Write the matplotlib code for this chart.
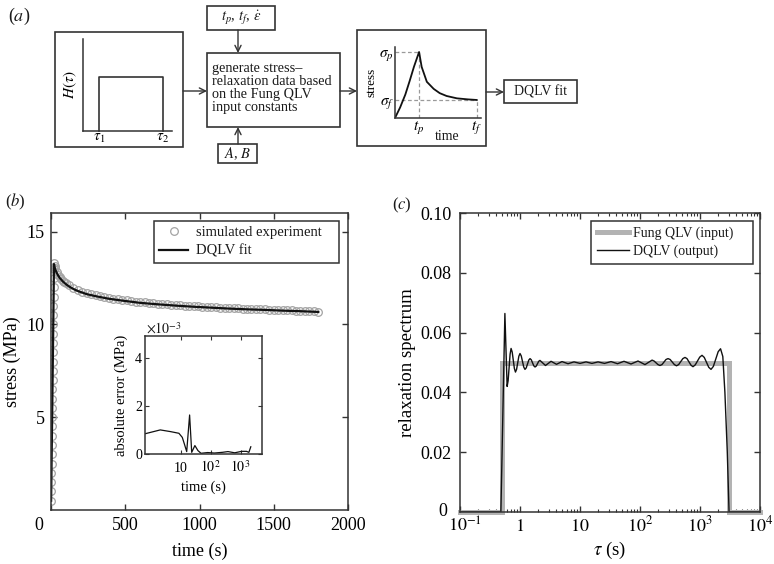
import matplotlib.pyplot as plt
from matplotlib.patches import Rectangle
from matplotlib.transforms import ScaledTranslation

plt.rcParams["font.family"] = ["Liberation Serif", "DejaVu Serif"]
plt.rcParams["mathtext.fontset"] = "stix"
plt.rcParams["axes.linewidth"] = 1.1
plt.rcParams["axes.edgecolor"] = "#333333"
plt.rcParams["xtick.direction"] = "in"
plt.rcParams["ytick.direction"] = "in"
plt.rcParams["text.color"] = "#1a1a1a"

EDGE = "#333333"

# ---- panel (a) schematic values (axis fractions) ----
h_x = [0.18, 0.18, 0.90, 0.90]
h_y = [0.0, 0.59, 0.59, 0.0]
sch_t = [0.0, 0.06, 0.12, 0.17, 0.22, 0.28, 0.31, 0.37, 0.45, 0.52, 0.60, 0.72, 0.85, 0.95]
sch_s = [0.0, 0.15, 0.33, 0.52, 0.72, 0.93, 0.72, 0.51, 0.41, 0.35, 0.31, 0.277, 0.262, 0.254]
tp, tf, sig_p, sig_f = 0.28, 0.95, 0.93, 0.254

# ---- panel (b): simulated experiment and DQLV fit ----
ramp_t = [0.8, 1.5, 2.3, 3.0, 3.8, 4.6, 5.3, 6.1, 6.9, 7.6, 8.4, 9.2, 9.9, 10.7, 11.5,
          12.2, 13.0, 13.8, 14.5, 15.3, 16.0, 16.8, 17.6, 18.3, 19.1, 19.8, 20.0]
ramp_s = [0.5, 1.0, 1.5, 2.0, 2.5, 3.0, 3.5, 4.0, 4.5, 5.0, 5.5, 6.0, 6.5, 7.0, 7.5,
          8.0, 8.5, 9.0, 9.5, 10.0, 10.5, 11.0, 11.5, 12.0, 12.5, 13.0, 13.3]
relax_t = [25, 30, 40, 50, 60, 70, 80, 90, 100, 120, 150, 180, 210, 240, 270, 300,
           330, 360, 390, 420, 450, 480, 510, 540, 570, 600, 630, 660, 690, 720, 750,
           780, 810, 840, 870, 900, 930, 960, 990, 1020, 1050, 1080, 1110, 1140, 1170,
           1200, 1230, 1260, 1290, 1320, 1350, 1380, 1410, 1440, 1470, 1500, 1530,
           1560, 1590, 1620, 1650, 1680, 1710, 1740, 1770, 1800]
relax_s = [13.15, 13.02, 12.82, 12.67, 12.54, 12.44, 12.36, 12.28, 12.22, 12.10, 11.95,
           11.85, 11.76, 11.68, 11.62, 11.57, 11.51, 11.47, 11.43, 11.39, 11.35, 11.32,
           11.29, 11.26, 11.23, 11.20, 11.18, 11.16, 11.14, 11.12, 11.10, 11.08, 11.06,
           11.05, 11.03, 11.01, 11.00, 10.98, 10.97, 10.95, 10.94, 10.93, 10.91, 10.90,
           10.89, 10.88, 10.87, 10.86, 10.85, 10.84, 10.83, 10.82, 10.81, 10.81, 10.80,
           10.79, 10.78, 10.77, 10.76, 10.75, 10.74, 10.73, 10.72, 10.71, 10.70, 10.69]
fit_t = [0.8, 5, 10, 15, 18, 20, 25, 30, 40, 50, 60, 80, 100, 120, 150, 180, 240, 300,
         390, 480, 600, 720, 840, 960, 1080, 1200, 1320, 1440, 1560, 1680, 1800]
fit_s = [0.5, 3.2, 6.5, 9.8, 11.8, 13.25, 13.05, 12.93, 12.75, 12.61, 12.49, 12.31,
         12.17, 12.05, 11.91, 11.80, 11.63, 11.52, 11.38, 11.28, 11.16, 11.08, 11.01,
         10.95, 10.90, 10.85, 10.81, 10.78, 10.74, 10.71, 10.67]

# inset: absolute error (x1e-3 MPa)
err_t = [0.65, 2.1, 4.6, 8.8, 11.4, 13.5, 16, 20, 23.5, 30, 38, 48, 80, 134, 250, 380,
         640, 1080, 1570, 1900, 2200]
err_v = [0.84, 1.0, 0.93, 0.86, 0.69, 0.4, 0.1, 1.62, 0.07, 0.35, 0.14, 0.03, 0.06, 0.04,
         0.07, 0.1, 0.05, 0.11, 0.11, 0.07, 0.3]

# ---- panel (c): relaxation spectrum ----
fung_tau = [0.1, 0.5, 0.5, 3000, 3000, 10000]
fung_h = [0.0, 0.0, 0.05, 0.05, 0.0, 0.0]
dqlv_tau = [0.1, 0.48, 0.56, 0.61, 0.634, 0.684, 0.71, 0.741, 0.806, 0.84, 0.877, 0.957,
            1.0, 1.049, 1.154, 1.21, 1.27, 1.40, 1.47, 1.542, 1.696, 1.78, 1.866, 2.051,
            2.15, 2.66, 3.29, 4.06, 5.01, 6.31, 7.94, 10.0, 12.6, 15.8, 20.0, 25.6, 32.9,
            42.2, 54.1, 70.8, 92.6, 121, 159, 171.5, 199.4, 215, 232.3, 271.2, 293, 317.9,
            374.2, 406, 440.5, 518, 562, 606.7, 707.6, 764, 833, 990, 1080, 1178, 1399,
            1525, 1671, 2008, 2200, 2400, 2600, 2850, 3050, 10000]
dqlv_h = [0.0, 0.0, 0.0664, 0.042, 0.0439, 0.0528, 0.0547, 0.0535, 0.048, 0.0468,
          0.0477, 0.0521, 0.053, 0.0522, 0.0485, 0.0477, 0.0482, 0.0508, 0.0513, 0.0509,
          0.0489, 0.0485, 0.0488, 0.0504, 0.0507, 0.049, 0.0504, 0.0494, 0.0503, 0.0496,
          0.0502, 0.0497, 0.0502, 0.0497, 0.0502, 0.0497, 0.0503, 0.0496, 0.0504, 0.0495,
          0.0505, 0.0493, 0.0508, 0.0505, 0.0493, 0.049, 0.0493, 0.051, 0.0513, 0.051,
          0.0493, 0.0489, 0.0493, 0.0513, 0.0517, 0.0513, 0.0491, 0.0486, 0.0492, 0.0518,
          0.0524, 0.0517, 0.0484, 0.0477, 0.0487, 0.0536, 0.0546, 0.052, 0.04, 0.02,
          0.0, 0.0]

W, H = 774, 564
fig = plt.figure(figsize=(W / 100, H / 100), dpi=100)


def frac(l, t, r, b):
    return [l / W, 1 - b / H, (r - l) / W, (b - t) / H]


def fxy(x, y):
    return (x / W, 1 - y / H)


def nudge(label, dx_px, dy_px):
    label.set_transform(label.get_transform()
                        + ScaledTranslation(dx_px / 100, dy_px / 100, fig.dpi_scale_trans))


# ---------------- (a) flow diagram ----------------
ax_a = fig.add_axes([0, 0, 1, 1])
ax_a.set_xlim(0, W)
ax_a.set_ylim(H, 0)
ax_a.axis("off")

boxes = [(55, 32, 183, 147), (207, 53, 340, 127), (207, 6, 275, 30),
         (218, 144, 257, 163), (357, 30, 486, 146), (504, 80, 577, 103)]
for l, t, r, b in boxes:
    ax_a.add_patch(Rectangle((l, t), r - l, b - t, fill=False, lw=1.2, ec=EDGE))

arrows = [((183, 91), (207, 91)), ((238, 30), (238, 53)), ((238, 144), (238, 127)),
          ((340, 91), (357, 91)), ((486, 92), (504, 92))]
for start, end in arrows:
    ax_a.annotate("", xy=end, xytext=start,
                  arrowprops=dict(arrowstyle="->", color=EDGE, lw=1.0,
                                  shrinkA=0, shrinkB=0, mutation_scale=11))

ax_a.text(8, 16, r"($a$)", fontsize=13, va="center")
ax_a.text(212, 88, "generate stress–\nrelaxation data based\non the Fung QLV\ninput constants",
          fontsize=10.3, va="center", ha="left", linespacing=1.0)
ax_a.text(241, 18, r"$t_p$, $t_f$, $\dot{\varepsilon}$", fontsize=10.5, ha="center", va="center")
ax_a.text(237.5, 154, r"$A$, $B$", fontsize=10.5, ha="center", va="center")
ax_a.text(540.5, 92, "DQLV fit", fontsize=10, ha="center", va="center")

axH = fig.add_axes(frac(83, 39, 172, 131))
axH.patch.set_alpha(0)
axH.plot(h_x, h_y, color=EDGE, lw=1.2, clip_on=False)
axH.set_xlim(0, 1)
axH.set_ylim(0, 1)
for s in ("top", "right"):
    axH.spines[s].set_visible(False)
axH.set_xticks([h_x[0], h_x[2]], [r"$\tau_1$", r"$\tau_2$"])
axH.set_yticks([])
axH.tick_params(length=0, pad=1, labelsize=11)
axH.set_ylabel(r"$H(\tau)$", fontsize=11, labelpad=3)

axS = fig.add_axes(frac(395, 47, 481, 118))
axS.patch.set_alpha(0)
dash = dict(color="#9a9a9a", lw=0.9, ls=(0, (3, 2)))
axS.plot([0, tp], [sig_p, sig_p], **dash)
axS.plot([tp, tp], [0, sig_p], **dash)
axS.plot([0, tf], [sig_f, sig_f], **dash)
axS.plot([tf, tf], [0, sig_f], **dash)
axS.plot(sch_t, sch_s, color="#111111", lw=1.3)
axS.set_xlim(0, 1)
axS.set_ylim(0, 1)
for s in ("top", "right"):
    axS.spines[s].set_visible(False)
axS.set_xticks([tp, tf], [r"$t_p$", r"$t_f$"])
axS.set_yticks([sig_f, sig_p], [r"$\sigma_f$", r"$\sigma_p$"])
axS.tick_params(length=0, pad=1, labelsize=11)
axS.set_ylabel("stress", fontsize=9.5, labelpad=1)
axS.text(0.605, -0.26, "time", transform=axS.transAxes, fontsize=10, ha="center", va="center")

# ---------------- (b) stress relaxation ----------------
axB = fig.add_axes(frac(51, 213, 348, 510))
axB.plot(ramp_t + relax_t, ramp_s + relax_s, ls="none", marker="o", ms=5.5, mfc="none",
         mec="#a3a3a3", mew=0.9, label="simulated experiment")
axB.plot(fit_t, fit_s, color="#111111", lw=1.6, label="DQLV fit")
axB.set_xlim(0, 2000)
axB.set_ylim(0, 16)
axB.set_xticks([0, 500, 1000, 1500, 2000])
axB.set_yticks([5, 10, 15])
axB.tick_params(top=True, right=True, length=4, width=1, color=EDGE, labelsize=13)
axB.tick_params(axis="x", pad=5)
axB.tick_params(axis="y", pad=4.5)
# the reference draws its "0" label a little left of the axis corner
nudge(axB.get_xticklabels()[0], -12, 0)
axB.set_xlabel("time (s)", fontsize=13, labelpad=6)
axB.set_ylabel("stress (MPa)", fontsize=13, labelpad=4)
legB = axB.legend(loc="upper left", bbox_to_anchor=(0.347, 0.5, 0.623, 0.473), mode="expand",
                  borderaxespad=0, fontsize=10.5, numpoints=1, handlelength=2.0,
                  handletextpad=0.5, labelspacing=0.35, borderpad=0.35,
                  fancybox=False, framealpha=1, edgecolor=EDGE)
legB.get_frame().set_linewidth(1.1)
fig.text(*fxy(5, 202), r"($b$)", fontsize=12, va="center")

axI = fig.add_axes(frac(145, 336, 262, 454))
axI.semilogx(err_t, err_v, color="#111111", lw=0.9)
axI.set_xlim(0.65, 5200)
axI.set_ylim(0, 4.9)
axI.set_xticks([10, 100, 1000], ["10", r"$10^2$", r"$10^3$"])
axI.set_yticks([0, 2, 4])
axI.tick_params(which="both", top=True, right=True, color=EDGE, labelsize=10)
axI.tick_params(which="major", length=3)
axI.tick_params(which="minor", length=1.5)
axI.tick_params(axis="x", pad=13)
axI.tick_params(axis="y", pad=2)
for lab in axI.get_xticklabels():
    lab.set_verticalalignment("baseline")
axI.set_xlabel("time (s)", fontsize=10.5, labelpad=4)
axI.set_ylabel("absolute error (MPa)", fontsize=10.5, labelpad=5)
fig.text(*fxy(146, 329), r"$\times10^{-3}$", fontsize=10, va="center", ha="left")

# ---------------- (c) relaxation spectrum ----------------
axC = fig.add_axes(frac(460, 213, 760, 512))
axC.semilogx(fung_tau, fung_h, color="#b3b3b3", lw=3.6, solid_joinstyle="miter",
             clip_on=False, label="Fung QLV (input)")
axC.semilogx(dqlv_tau, dqlv_h, color="#111111", lw=1.0, label="DQLV (output)")
axC.set_xlim(0.1, 1e4)
axC.set_ylim(0, 0.1)
axC.set_xticks([0.1, 1, 10, 100, 1000, 10000],
               [r"$10^{-1}$", r"$1$", r"$10$", r"$10^{2}$", r"$10^{3}$", r"$10^{4}$"])
axC.set_yticks([0, 0.02, 0.04, 0.06, 0.08, 0.1], ["0", "0.02", "0.04", "0.06", "0.08", "0.10"])
axC.tick_params(which="both", top=True, right=True, color=EDGE, labelsize=13)
axC.tick_params(which="major", length=4, width=1)
axC.tick_params(which="minor", length=2.2, width=0.8)
axC.tick_params(axis="x", pad=14)
axC.tick_params(axis="y", pad=6)
for lab in axC.get_xticklabels():
    lab.set_verticalalignment("baseline")
# keep the corner labels "0" and "10^-1" from touching
nudge(axC.get_yticklabels()[0], -4, 3)
nudge(axC.get_xticklabels()[0], 5, 0)
axC.set_xlabel(r"$\tau$ (s)", fontsize=13.5, labelpad=3)
axC.set_ylabel("relaxation spectrum", fontsize=13.5, labelpad=3)
legC = axC.legend(loc="upper left", bbox_to_anchor=(0.437, 0.5, 0.54, 0.473), mode="expand",
                  borderaxespad=0, fontsize=10, handlelength=2.3, handletextpad=0.35,
                  labelspacing=0.35, borderpad=0.4, fancybox=False, framealpha=1,
                  edgecolor=EDGE)
legC.get_frame().set_linewidth(1.1)
fig.text(*fxy(392, 205), r"($c$)", fontsize=12, va="center")

fig.savefig("out.png", dpi=100)
